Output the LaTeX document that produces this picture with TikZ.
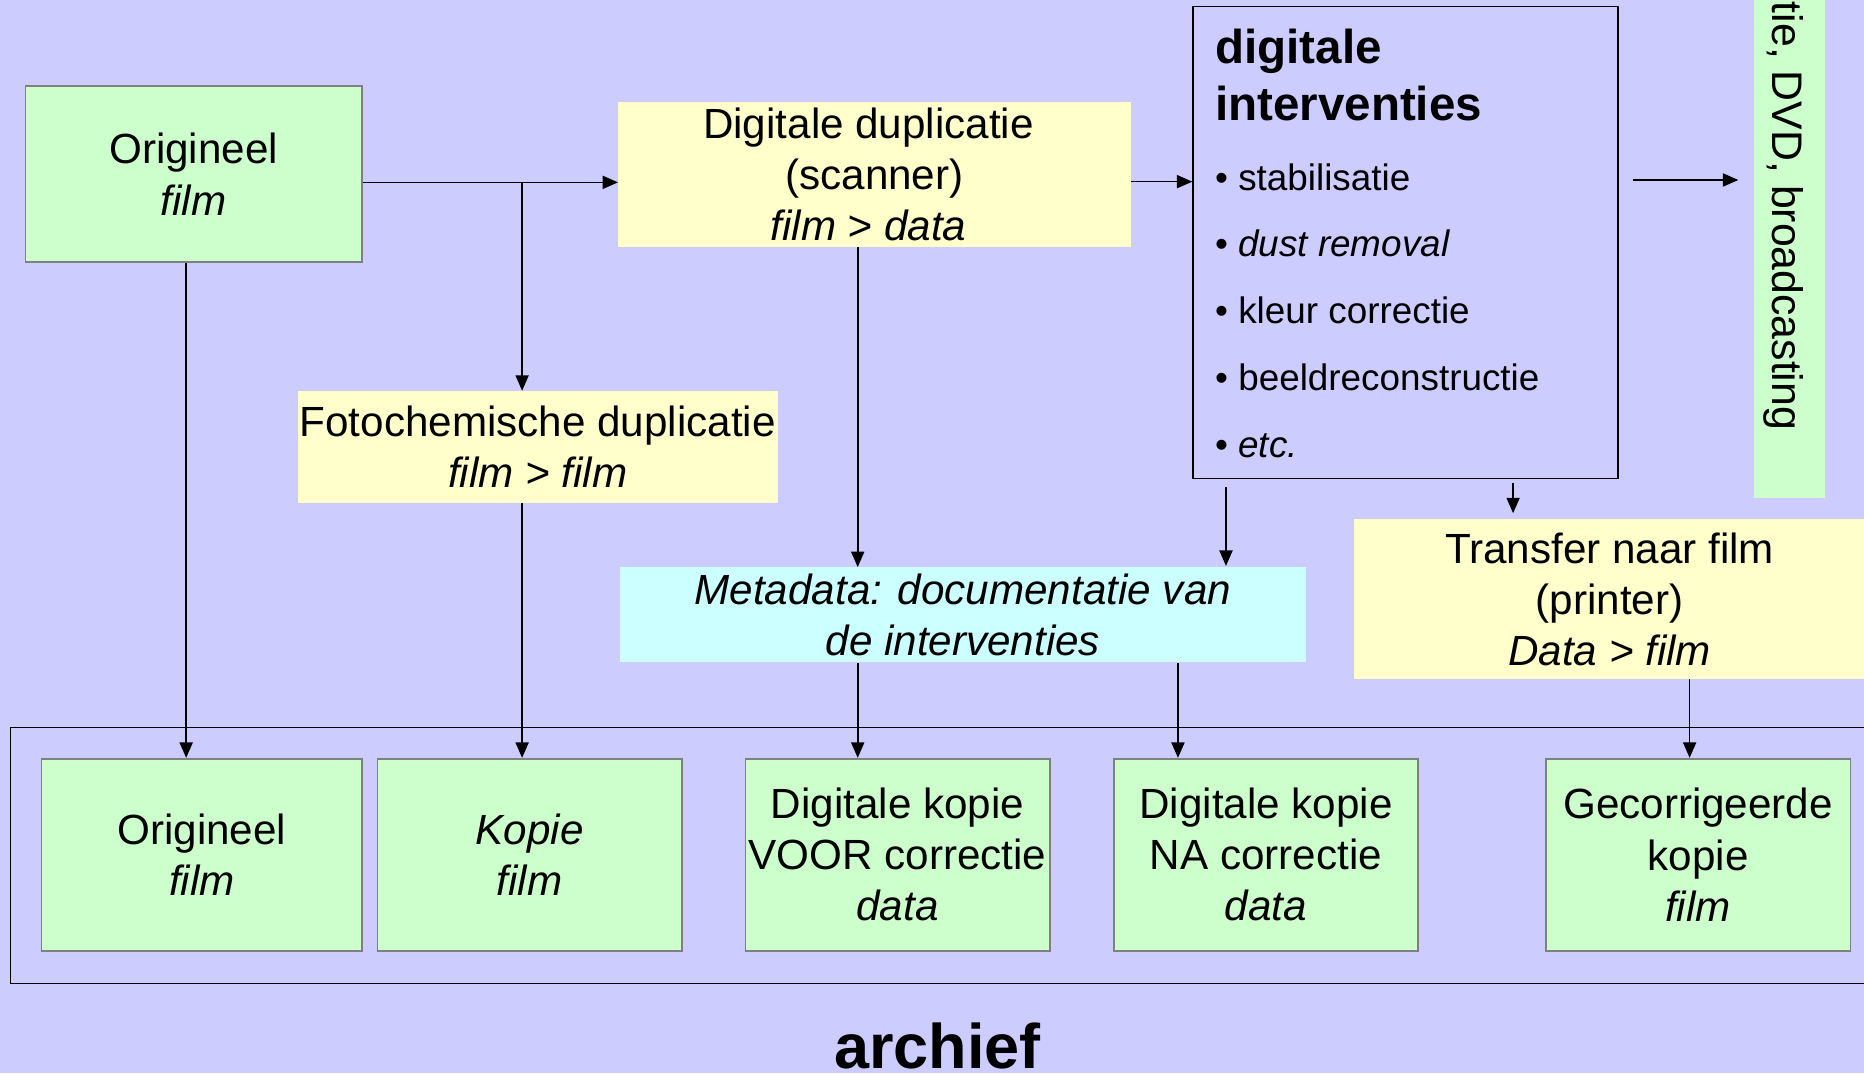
\documentclass[tikz,border=0pt]{standalone}
\usepackage{fontspec}
\setmainfont{Liberation Sans}
\usetikzlibrary{arrows.meta,calc}
\definecolor{bg}{HTML}{CCCCFF}
\definecolor{gfill}{HTML}{CCFFCC}
\definecolor{yfill}{HTML}{FFFFCC}
\definecolor{cfill}{HTML}{CCFFFF}
\definecolor{bordergray}{HTML}{808080}
\begin{document}
\begin{tikzpicture}[x=1pt,y=-1pt,
  txt/.style={font=\fontsize{35.5}{43}\selectfont, align=center, inner sep=0pt},
  gbox/.style={txt, draw=bordergray, fill=gfill, line width=1.5pt},
  ybox/.style={txt, fill=yfill},
  cbox/.style={txt, fill=cfill},
  arr/.style={line width=1.4pt, -{Triangle[length=13pt,width=11pt]}},
  item/.style={font=\fontsize{31}{37}\selectfont, anchor=base west, inner sep=0pt},
  ttl/.style={font=\fontsize{40}{48}\selectfont\bfseries, anchor=base west, inner sep=0pt},
]
\fill[bg] (0,0) rectangle (1568,903);
\useasboundingbox (0,0) rectangle (1568,903);

% top row
\node[gbox, minimum width=283pt, minimum height=148pt] (o1) at (162.9,146.5) {Origineel\\\textit{film}};
\node[ybox, minimum width=431pt, minimum height=121.5pt] (dupl) at (735.6,146.8) {Digitale duplicatie\hspace*{10pt}\\(scanner)\hspace*{10pt}\\\textit{film > data}\hspace*{10pt}};
\node[draw, line width=1.5pt, minimum width=357.5pt, minimum height=397pt, inner sep=0pt] (interv) at (1182.5,204) {};
\node[ttl] (t1) at (1022,53.8) {digitale};
\node[ttl] (t2) at (1022,101.5) {interventies};
\node[item] (i1) at (1022,160.4) {• stabilisatie};
\node[item] (i2) at (1022,215.9) {• \textit{dust removal}};
\node[item] (i3) at (1022,272.5) {• kleur correctie};
\node[item] (i4) at (1022,328.6) {• beeldreconstructie};
\node[item] (i5) at (1022,384.7) {• \textit{etc.}};
\node[fill=gfill, minimum width=59.5pt, minimum height=424pt, inner sep=0pt] (strip) at (1505.25,206.5) {};
\node[rotate=-90, anchor=base east, inner sep=0pt, font=\fontsize{36}{43}\selectfont] (striptxt) at (1491,362) {tie, DVD, broadcasting};

% middle row
\node[ybox, minimum width=404pt, minimum height=94pt] (foto) at (452.3,375.9) {Fotochemische duplicatie\\\textit{film > film}};
\node[cbox, minimum width=577pt, minimum height=80pt] (meta) at (809.9,517.25) {\textit{Metadata: documentatie van}\\\textit{de interventies}};
\node[ybox, minimum width=430pt, minimum height=134.3pt] (transfer) at (1354,504.05) {Transfer naar film\\(printer)\\\textit{Data > film}};

% archive
\node[draw, line width=1.5pt, minimum width=1580pt, minimum height=215.3pt, inner sep=0pt, anchor=north west] (archive) at (8.1,611.3) {};
\node[gbox, minimum width=269.8pt, minimum height=161.5pt] (a1) at (169.8,719) {Origineel\\\textit{film}};
\node[gbox, minimum width=255.9pt, minimum height=161.5pt] (a2) at (445.55,719) {\textit{Kopie}\\\textit{film}};
\node[gbox, minimum width=255.9pt, minimum height=161.5pt] (a3) at (755.05,719) {Digitale kopie\\VOOR correctie\\\textit{data}};
\node[gbox, minimum width=256pt, minimum height=161.5pt] (a4) at (1065,719) {Digitale kopie\\NA correctie\\\textit{data}};
\node[gbox, minimum width=256.4pt, minimum height=161.5pt] (a5) at (1428.4,719) {Gecorrigeerde\\kopie\\\textit{film}};
\node[anchor=base, inner sep=0pt, font=\fontsize{53}{60}\selectfont\bfseries] (arch) at (788.5,899) {archief};

% connectors
\coordinate (br) at (439.2,153.4);
\coordinate (s1) at (1373.4,151.4);
\coordinate (s2) at (1462.3,151.4);
\draw[arr] (o1.east |- br) -- (dupl.west |- br);
\draw[arr] (br) -- (foto.north -| br);
\draw[arr] (dupl.east |- 0,152.8) -- (interv.west |- 0,152.8);
\draw[arr] (s1) -- (s2);
\draw[arr] (o1.south -| 156.6,0) -- (a1.north -| 156.6,0);
\draw[arr] (foto.south -| br) -- (a2.north -| br);
\draw[arr] (dupl.south -| 721.5,0) -- (meta.north -| 721.5,0);
\draw[arr] (meta.south -| 721.5,0) -- (a3.north -| 721.5,0);
\draw[arr] ($(interv.south -| 1031.3,0)+(0,6.4)$) -- ($(meta.north -| 1031.3,0)+(0,-1)$);
\draw[arr] (meta.south -| 990.9,0) -- (a4.north -| 990.9,0);
\draw[arr] ($(interv.south -| 1272.8,0)+(0,3)$) -- ($(transfer.north -| 1272.8,0)+(0,-5)$);
\draw[arr] (transfer.south -| 1421.3,0) -- (a5.north -| 1421.3,0);
\end{tikzpicture}
\end{document}
